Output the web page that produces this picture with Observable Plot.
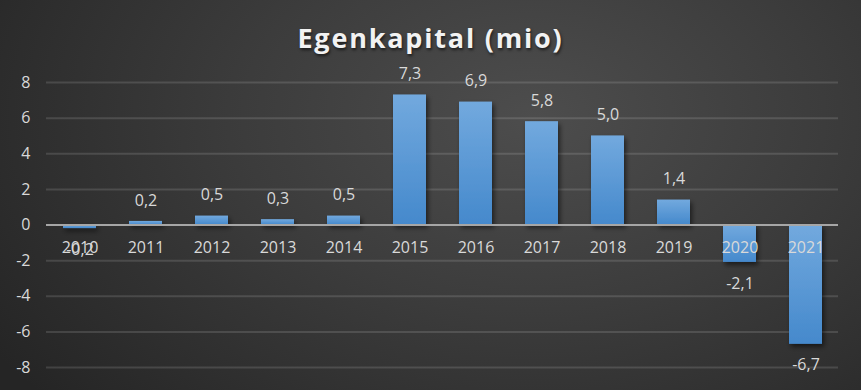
<!DOCTYPE html>
<html><head><meta charset="utf-8">
<script src="https://cdn.jsdelivr.net/npm/d3@7"></script>
<script src="https://cdn.jsdelivr.net/npm/@observablehq/plot@0.6"></script>
<style>
html,body{margin:0;padding:0;}
#wrap{width:861px;height:390px;overflow:hidden;position:relative;
background:radial-gradient(ellipse 75% 110% at 62% 30%, #4d4d4d 0%, #3c3c3c 45%, #252525 100%);
font-family:"Open Sans",sans-serif;}
#title{height:60px;box-sizing:border-box;padding-top:19px;line-height:38px;text-align:center;color:#f2f2f2;font-weight:700;font-size:27px;letter-spacing:1.8px;
text-shadow:1px 2px 3px rgba(0,0,0,0.6);}
svg{background:transparent!important;}
</style></head>
<body><div id="wrap"><div id="title">Egenkapital (mio)</div><div id="chart"></div></div>
<script>
const years = ["2010","2011","2012","2013","2014","2015","2016","2017","2018","2019","2020","2021"];
const values = [-0.2, 0.2, 0.5, 0.3, 0.5, 7.3, 6.9, 5.8, 5.0, 1.4, -2.1, -6.7];
const yTicks = [-8, -6, -4, -2, 0, 2, 4, 6, 8];

const data = years.map((y, i) => ({year: y, value: values[i]}));
const fmt = v => v.toFixed(1).replace(".", ",");
const txt = "#d9d9d9";

const defs = () => {
  const d = d3.create("svg:defs");
  const g = d.append("linearGradient").attr("id", "barGrad").attr("x1", 0).attr("y1", 0).attr("x2", 0).attr("y2", 1);
  g.append("stop").attr("offset", "0%").attr("stop-color", "#72a9de");
  g.append("stop").attr("offset", "100%").attr("stop-color", "#4589cc");
  const f = d.append("filter").attr("id", "shadow").attr("x", "-30%").attr("y", "-10%").attr("width", "160%").attr("height", "130%");
  f.append("feDropShadow").attr("dx", 2).attr("dy", 3).attr("stdDeviation", 2.5).attr("flood-color", "#000").attr("flood-opacity", 0.55);
  return d.node();
};

const chart = Plot.plot({
  width: 861,
  height: 330,
  marginLeft: 46,
  marginRight: 23,
  marginTop: 22,
  marginBottom: 23,
  style: {background: "transparent", fontFamily: "Open Sans, sans-serif", fontSize: "16px", color: txt},
  x: {domain: years, paddingInner: 0.5, paddingOuter: 0.25, axis: null},
  y: {domain: [-8, 8], ticks: yTicks, label: null},
  marks: [
    defs,
    Plot.gridY(yTicks.filter(t => t !== 0), {stroke: "#ffffff", strokeOpacity: 0.13, strokeWidth: 2}),
    Plot.axisY(yTicks, {tickSize: 0, tickPadding: 16, tickFormat: d => String(d), fill: txt, fontSize: 16, label: null}),
    Plot.barY(data, {x: "year", y: "value", fill: "url(#barGrad)",
      render: (i, s, v, d, c, next) => { const g = next(i, s, v, d, c); g.setAttribute("filter", "url(#shadow)"); return g; }}),
    Plot.ruleY([0], {stroke: "#a6a6a6", strokeWidth: 2}),
    Plot.text(data, {x: "year", y: 0, text: "year", dy: 23, fill: txt, fontSize: 16}),
    Plot.text(data.filter(d => d.value >= 0), {x: "year", y: "value", text: d => fmt(d.value), dy: -21, fill: txt, fontSize: 16}),
    Plot.text(data.filter(d => d.value < 0), {x: "year", y: "value", text: d => fmt(d.value), dy: 21, fill: txt, fontSize: 16})
  ]
});
document.getElementById("chart").appendChild(chart);
</script>
</body></html>
